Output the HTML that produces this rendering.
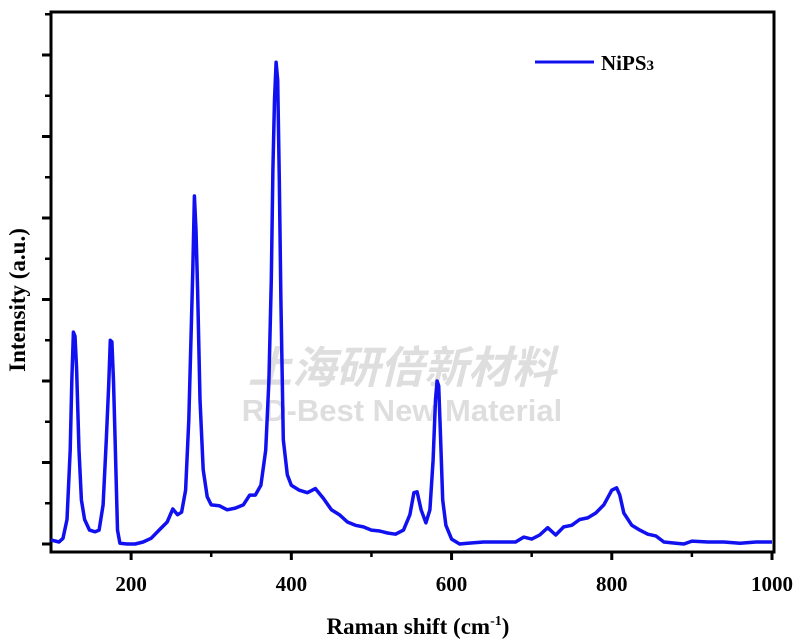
<!DOCTYPE html>
<html><head><meta charset="utf-8"><style>
html,body{margin:0;padding:0;background:#fff;}
svg{display:block;}
text{font-family:"Liberation Serif",serif;font-weight:bold;fill:#000;}
</style></head><body>
<svg id="chart" width="800" height="644" viewBox="0 0 800 644" xmlns="http://www.w3.org/2000/svg">
<g>
<text x="402" y="383" text-anchor="middle" style="font-family:'Liberation Sans','Noto Sans CJK SC',sans-serif;font-size:44px;fill:#dedede;font-style:italic">上海研倍新材料</text>
<text x="402" y="421" text-anchor="middle" style="font-family:'Liberation Sans',sans-serif;font-size:31px;fill:#dedede">RD-Best New Material</text>
</g>
<g id="axes"></g>
<path id="series" fill="none" stroke="#1010f0" stroke-width="3.5" stroke-linejoin="round"/>
<g>
<line x1="535" y1="62" x2="594" y2="62" stroke="#1010f0" stroke-width="3"/>
<text x="601" y="70" font-size="21">NiPS<tspan font-size="15">3</tspan></text>
</g>
<text transform="translate(25,300) rotate(-90)" text-anchor="middle" font-size="23">Intensity (a.u.)</text>
<text x="418" y="634" text-anchor="middle" font-size="23">Raman shift (cm<tspan font-size="14" dy="-9">-1</tspan><tspan dy="9">)</tspan></text>
</svg>
<script>
const xs=[100,110,115,120,124,126,128,130,132,135,138,142,148,155,160,165,169,172,174,176,178,180,183,186,195,205,215,225,235,245,252,258,263,268,272,275,277,279,281,283,286,290,295,300,310,320,330,340,348,355,362,368,372,375,377,379,381,383,385,387,390,395,400,410,420,430,440,450,460,470,480,490,500,510,520,530,540,548,553,557,562,568,573,577,580,582,584,586,589,593,600,610,620,640,660,680,690,700,710,720,730,740,750,760,770,780,790,800,806,810,815,825,835,845,855,865,880,890,900,920,940,960,980,1000];
const intensity=[50,25,70,300,1150,2000,2600,2550,2150,1150,540,300,170,150,170,480,1280,1950,2500,2480,2000,1280,170,10,0,0,25,70,170,270,430,360,390,660,1520,2620,3360,4270,3850,3120,1770,910,580,480,470,420,440,480,600,600,720,1150,2000,3240,4590,5450,5910,5690,4470,2990,1280,850,720,660,630,680,560,420,360,270,230,210,170,160,135,120,170,360,630,640,420,260,420,1030,1770,2000,1940,1400,540,230,60,0,10,25,25,25,85,60,110,200,110,210,230,300,320,380,480,660,690,600,380,230,170,120,100,25,10,0,35,25,25,10,25,25];
const xTicks=[200,400,600,800,1000];
const xTickLabels=["200","400","600","800","1000"];
const yTicks=[0,1000,2000,3000,4000,5000,6000];

const X0=51,X1=772,Y0=544,PER=81.5;
const sx=v=>X0+(v-100)/900*(X1-X0);
const sy=v=>Y0-v/1000*PER;
const NS="http://www.w3.org/2000/svg";
const ax=document.getElementById('axes');
function mk(tag,attrs){const e=document.createElementNS(NS,tag);for(const k in attrs)e.setAttribute(k,attrs[k]);return e;}

const frame=mk('rect',{x:51,y:12,width:723,height:540,fill:'none',stroke:'#000','stroke-width':3});


ax.appendChild(frame);

xTicks.forEach((t,i)=>{
  const x=sx(t);
  const l=mk('line',{x1:x,y1:552,x2:x,y2:560,stroke:'#000','stroke-width':3});
  
  
  ax.appendChild(l);
  const tx=mk('text',{x:x,y:591,'text-anchor':'middle','font-size':21});
  tx.textContent=xTickLabels[i];
  
  
  ax.appendChild(tx);
  const mx=sx(t-100);
  if(t-100>100){
    const m=mk('line',{x1:mx,y1:552,x2:mx,y2:557,stroke:'#000','stroke-width':2.5});
    
    
    ax.appendChild(m);
  }
});
yTicks.forEach(t=>{
  const y=sy(t);
  const l=mk('line',{x1:42,y1:y,x2:51,y2:y,stroke:'#000','stroke-width':3});
  
  
  ax.appendChild(l);
  const my=sy(t+500);
  if(my>14){
    const m=mk('line',{x1:45,y1:my,x2:51,y2:my,stroke:'#000','stroke-width':2.5});
    
    
    ax.appendChild(m);
  }
});
let d='';
xs.forEach((x,i)=>{d+=(i?'L':'M')+sx(x).toFixed(1)+','+sy(intensity[i]).toFixed(1);});
document.getElementById('series').setAttribute('d',d);
</script>
</body></html>
